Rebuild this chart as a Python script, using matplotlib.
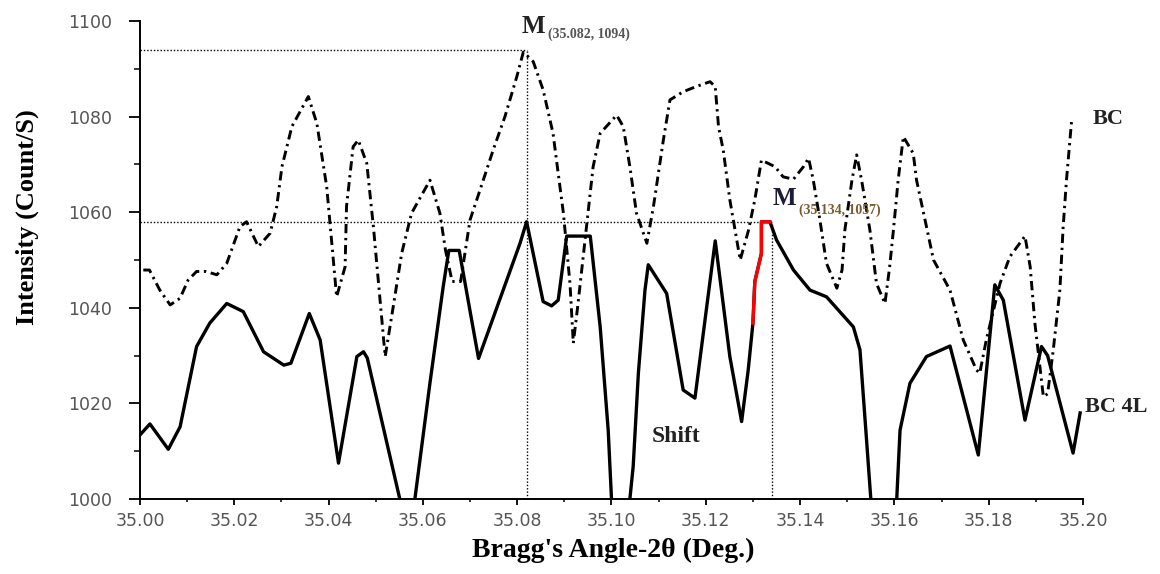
import matplotlib
matplotlib.use("Agg")
import matplotlib.pyplot as plt
from matplotlib.ticker import MultipleLocator

# ── data ─────────────────────────────────────────────────────────────────
bc_x = [35.0007, 35.0020, 35.0042, 35.0064, 35.0085, 35.0102, 35.0120, 35.0140,
        35.0163, 35.0184, 35.0212, 35.0226, 35.0251, 35.0276, 35.0290, 35.0301,
        35.0322, 35.0357, 35.0375, 35.0396, 35.0410, 35.0417, 35.0435, 35.0438,
        35.0452, 35.0463, 35.0481, 35.0495, 35.0520, 35.0537, 35.0555, 35.0576,
        35.0615, 35.0636, 35.0648, 35.0662, 35.0680, 35.0700, 35.0721, 35.0749,
        35.0774, 35.0799, 35.0813, 35.0834, 35.0855, 35.0876, 35.0887, 35.0898,
        35.0912, 35.0919, 35.0928, 35.0940, 35.0961, 35.0976, 35.1011, 35.1025,
        35.1039, 35.1053, 35.1075, 35.1089, 35.1110, 35.1124, 35.1152, 35.1180,
        35.1209, 35.1220, 35.1227, 35.1237, 35.1251, 35.1273, 35.1290, 35.1304,
        35.1318, 35.1347, 35.1364, 35.1386, 35.1407, 35.1418, 35.1428, 35.1442,
        35.1456, 35.1478, 35.1489, 35.1495, 35.1510, 35.1520, 35.1531, 35.1548,
        35.1562, 35.1580, 35.1590, 35.1598, 35.1608, 35.1619, 35.1640, 35.1647,
        35.1668, 35.1683, 35.1718, 35.1746, 35.1774, 35.1781, 35.1795, 35.1824,
        35.1845, 35.1877, 35.1888, 35.1898, 35.1916, 35.1925, 35.1937, 35.1951,
        35.1958, 35.1965, 35.1976]
bc_y = [1047.9, 1047.9, 1043.7, 1040.6, 1042.0, 1045.8, 1047.6, 1047.6,
        1046.9, 1049.3, 1057.0, 1058.0, 1052.8, 1055.6, 1061.2, 1069.5,
        1077.9, 1084.2, 1078.6, 1065.3, 1050.0, 1042.3, 1048.6, 1061.2,
        1073.7, 1075.1, 1070.2, 1057.0, 1029.8, 1040.2, 1051.4, 1059.8,
        1066.7, 1059.8, 1052.0, 1045.5, 1045.5, 1058.4, 1064.6, 1073.0,
        1080.0, 1088.3, 1093.5, 1091.5, 1085.6, 1076.5, 1068.1, 1059.8,
        1045.0, 1032.6, 1040.0, 1050.7, 1069.5, 1076.5, 1080.3, 1077.9,
        1069.5, 1059.8, 1053.5, 1061.2, 1075.1, 1083.5, 1085.2, 1086.3,
        1087.3, 1086.3, 1077.9, 1073.0, 1062.6, 1050.0, 1056.0, 1062.6,
        1070.9, 1069.5, 1067.4, 1066.9, 1069.5, 1071.3, 1066.7, 1058.4,
        1049.3, 1044.1, 1047.9, 1056.3, 1066.7, 1072.0, 1066.4, 1056.3,
        1045.1, 1040.9, 1048.6, 1056.3, 1066.7, 1075.8, 1072.3, 1066.7,
        1057.0, 1050.0, 1043.7, 1033.3, 1027.0, 1026.3, 1033.3, 1045.1,
        1050.7, 1055.0, 1048.6, 1036.8, 1021.4, 1022.0, 1031.2, 1043.7,
        1057.0, 1066.7, 1079.3]

bc4l_x = [35.0000, 35.0021, 35.0060, 35.0085, 35.0120, 35.0148, 35.0184, 35.0219,
          35.0262, 35.0305, 35.0320, 35.0359, 35.0382, 35.0421, 35.0460, 35.0474,
          35.0482, 35.0551, 35.0567, 35.0583, 35.0615, 35.0643, 35.0655, 35.0677,
          35.0718, 35.0806, 35.0820, 35.0855, 35.0873, 35.0887, 35.0905, 35.0955,
          35.0976, 35.0993, 35.1000, 35.1018, 35.1039, 35.1046, 35.1057, 35.1071,
          35.1078, 35.1117, 35.1152, 35.1177, 35.1220, 35.1251, 35.1276, 35.1290,
          35.1300, 35.1304, 35.1318, 35.1318, 35.1336, 35.1350, 35.1386, 35.1421,
          35.1456, 35.1513, 35.1527, 35.1541, 35.1550, 35.1578, 35.1605, 35.1612,
          35.1633, 35.1668, 35.1718, 35.1778, 35.1813, 35.1831, 35.1877, 35.1912,
          35.1925, 35.1979, 35.1994]
bc4l_y = [1013.4, 1015.7, 1010.4, 1015.1, 1031.9, 1036.8, 1040.9, 1039.2,
          1030.8, 1028.0, 1028.4, 1038.8, 1033.3, 1007.5, 1029.8, 1030.8,
          1029.5, 1000.0, 990.0, 1000.0, 1024.3, 1044.4, 1052.0, 1052.0,
          1029.4, 1053.5, 1058.0, 1041.3, 1040.4, 1041.6, 1055.0, 1055.0,
          1036.0, 1014.4, 1000.0, 985.0, 1000.0, 1006.8, 1026.3, 1043.7,
          1049.0, 1043.0, 1022.8, 1021.1, 1054.0, 1029.8, 1016.2, 1027.0,
          1036.8, 1045.5, 1051.4, 1058.0, 1058.0, 1054.2, 1047.9, 1043.7,
          1042.3, 1036.0, 1031.2, 1012.3, 1000.0, 985.0, 1000.0, 1014.4,
          1024.2, 1029.8, 1032.0, 1009.2, 1044.8, 1041.6, 1016.5, 1031.9,
          1030.0, 1009.6, 1018.0]

# shifted part of BC4L, drawn in red
shift_x = [35.1300, 35.1304, 35.1318, 35.1318, 35.1336]
shift_y = [1036.8, 1045.5, 1051.4, 1058.0, 1058.0]

# peak markers
peak1 = (35.082, 1094)
peak2 = (35.134, 1058)

SERIF = ["Liberation Serif", "DejaVu Serif"]

fig = plt.figure(figsize=(11.6, 5.74), dpi=100)
ax = fig.add_axes([0.1207, 0.1307, 0.8129, 0.8327])
ax.set_xlim(35.0, 35.2)
ax.set_ylim(1000, 1100)

# ── guide lines ──────────────────────────────────────────────────────────
dot = dict(color="black", lw=1.0, ls=(0, (1, 1.4)), zorder=1)
ax.plot([35.0, peak1[0]], [peak1[1], peak1[1]], **dot)
ax.plot([peak1[0], peak1[0]], [1000, peak1[1]], **dot)
ax.plot([35.0, peak2[0]], [peak2[1], peak2[1]], **dot)
ax.plot([peak2[0], peak2[0]], [1000, peak2[1]], **dot)

# ── curves ───────────────────────────────────────────────────────────────
ax.plot(bc_x, bc_y, color="black", lw=2.1, ls=(0, (3.2, 1.6, 0.8, 1.6)), zorder=3)
ax.plot(bc4l_x, bc4l_y, color="black", lw=2.4, zorder=4)
ax.plot(shift_x, shift_y, color="red", lw=2.4, zorder=5)

# ── annotations ──────────────────────────────────────────────────────────
ax.text(35.0809, 1097.4, "M", family=SERIF, fontsize=18, fontweight="bold",
        color="#222", ha="left", va="baseline", clip_on=False)
ax.text(35.0866, 1096.4, "(35.082, 1094)", family=SERIF, fontsize=10,
        fontweight="bold", color="#555", ha="left", va="baseline", clip_on=False)
ax.text(35.1342, 1061.5, "M", family=SERIF, fontsize=18, fontweight="bold",
        color="#1c1c3a", ha="left", va="baseline")
ax.text(35.1398, 1059.6, "(35.134, 1057)", family=SERIF, fontsize=10,
        fontweight="bold", color="#7a5a28", ha="left", va="baseline")
ax.text(35.2021, 1079.5, "BC", family=SERIF, fontsize=16, fontweight="bold",
        color="#222", ha="left", va="center", clip_on=False)
ax.text(35.2004, 1019.2, "BC 4L", family=SERIF, fontsize=16, fontweight="bold",
        color="#222", ha="left", va="center", clip_on=False)
ax.text(35.1085, 1013.0, "Shift", family=SERIF, fontsize=17, fontweight="bold",
        color="#222", ha="left", va="center")

# ── axes styling ─────────────────────────────────────────────────────────
for s in ("top", "right"):
    ax.spines[s].set_visible(False)
for s in ("left", "bottom"):
    ax.spines[s].set_linewidth(1.4)

ax.xaxis.set_major_locator(MultipleLocator(0.02))
ax.xaxis.set_minor_locator(MultipleLocator(0.01))
ax.yaxis.set_major_locator(MultipleLocator(20))
ax.yaxis.set_minor_locator(MultipleLocator(10))
ax.xaxis.set_major_formatter(plt.FormatStrFormatter("%.2f"))
ax.tick_params(axis="y", which="major", direction="out", length=8, width=1.3,
               labelsize=12.5, labelcolor="#555", pad=12)
ax.tick_params(axis="y", which="minor", direction="out", length=4, width=1.1)
ax.tick_params(axis="x", which="major", direction="out", length=4.5, width=1.3,
               labelsize=12.5, labelcolor="#555", pad=5)
ax.tick_params(axis="x", which="minor", direction="out", length=2.5, width=1.1)

ax.set_ylabel("Intensity (Count/S)", family=SERIF, fontsize=19,
              fontweight="bold")
ax.yaxis.set_label_coords(-0.12, 0.59)
ax.yaxis.label.set_va("center")
ax.set_xlabel("Bragg's Angle-2θ (Deg.)", family=SERIF, fontsize=20,
              fontweight="bold")
ax.xaxis.set_label_coords(0.502, -0.107)
ax.xaxis.label.set_va("center")

fig.savefig("out.png", dpi=100, facecolor="white")
